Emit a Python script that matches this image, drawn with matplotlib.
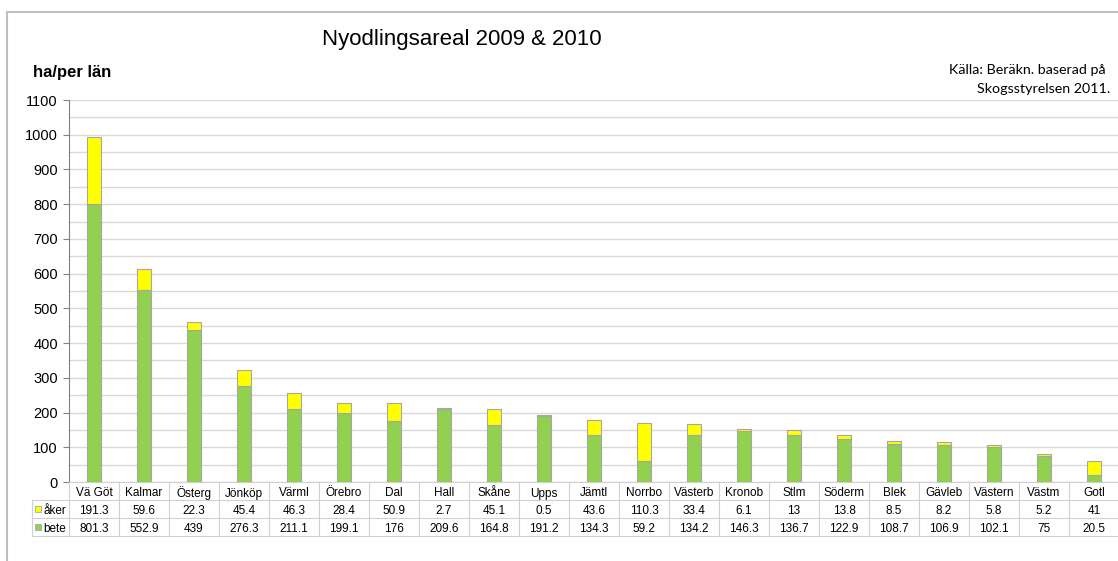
import numpy as np
import matplotlib
matplotlib.use("Agg")
import matplotlib.pyplot as plt
import matplotlib.transforms as mtransforms
from matplotlib.patches import Rectangle
from matplotlib.lines import Line2D

# data (ha per län)
regions = ["Vä Göt", "Kalmar", "Österg", "Jönköp", "Värml", "Örebro", "Dal",
           "Hall", "Skåne", "Upps", "Jämtl", "Norrbo", "Västerb", "Kronob",
           "Stlm", "Söderm", "Blek", "Gävleb", "Västern", "Västm", "Gotl"]
aker = [191.3, 59.6, 22.3, 45.4, 46.3, 28.4, 50.9, 2.7, 45.1, 0.5, 43.6,
        110.3, 33.4, 6.1, 13, 13.8, 8.5, 8.2, 5.8, 5.2, 41]
bete = [801.3, 552.9, 439, 276.3, 211.1, 199.1, 176, 209.6, 164.8, 191.2,
        134.3, 59.2, 134.2, 146.3, 136.7, 122.9, 108.7, 106.9, 102.1, 75, 20.5]
series = ["åker", "bete"]
colors = {"åker": "#FFFF00", "bete": "#92D050"}

plt.rcParams['font.family'] = ['Liberation Sans', 'DejaVu Sans']

W, H = 1118, 561
fig = plt.figure(figsize=(W / 100, H / 100), dpi=100)


def fx(px):
    return px / W


def fy(px):
    return 1 - px / H


ax = fig.add_axes([fx(69), fy(482), fx(1119) - fx(69), fy(100) - fy(482)])
x = np.arange(len(regions))
edge = "#A6A6A6"
ax.bar(x, bete, width=0.28, color=colors["bete"], edgecolor=edge, linewidth=0.8, zorder=3)
ax.bar(x, aker, bottom=bete, width=0.28, color=colors["åker"], edgecolor=edge, linewidth=0.8, zorder=3)

ax.set_xlim(-0.5, len(regions) - 0.5)
ax.set_ylim(0, 1100)
ax.set_yticks(range(0, 1101, 100))
ax.set_yticks(range(50, 1100, 100), minor=True)
ax.grid(axis='y', which='both', color='#D9D9D9', linewidth=1, zorder=0)
ax.set_xticks([])
ax.tick_params(axis='y', which='major', length=4, color='#808080', labelsize=10.5, pad=4)
ax.tick_params(axis='y', which='minor', length=0)
for s in ['top', 'right']:
    ax.spines[s].set_visible(False)
ax.spines['left'].set_color('#808080')
ax.spines['bottom'].set_color('#D0D0D0')

# data table below the axis
blend = mtransforms.blended_transform_factory(ax.transData, fig.transFigure)
line_c = '#D0D0D0'
rows_y = [482, 500, 518, 536]
for i in range(len(regions) + 1):
    fig.add_artist(Line2D([i - 0.5, i - 0.5], [fy(482), fy(536)], transform=blend,
                          color=line_c, lw=0.8))
fig.add_artist(Line2D([fx(32), fx(32)], [fy(500), fy(536)], color=line_c, lw=0.8))
for y in rows_y[1:]:
    fig.add_artist(Line2D([fx(32), 1], [fy(y), fy(y)], color=line_c, lw=0.8))

for i, r in enumerate(regions):
    ax.text(i, fy(496.5), r, transform=blend, ha='center', va='baseline', fontsize=8.5)
    for k, vals in enumerate([aker, bete]):
        s = f"{vals[i]:g}"
        ax.text(i, fy(513.5 + 18 * k), s, transform=blend, ha='center', va='baseline', fontsize=8.5)

for k, name in enumerate(series):
    yc = 509 + 18 * k
    fig.add_artist(Rectangle((fx(35), fy(yc + 3)), fx(6), 6 / H, transform=fig.transFigure,
                             facecolor=colors[name], edgecolor=edge, lw=0.6))
    fig.text(fx(43), fy(yc + 4.5), name, ha='left', va='baseline', fontsize=8.5)

# titles
fig.text(fx(462), fy(40), "Nyodlingsareal 2009 & 2010", ha='center', va='center', fontsize=16)
fig.text(fx(33), fy(73), "ha/per län", ha='left', va='center', fontsize=12, fontweight='bold')
fig.text(fx(1106), fy(70), "Källa: Beräkn. baserad på", ha='right', va='center',
         fontsize=10.3, family=['Lato', 'DejaVu Sans'])
fig.text(fx(1110), fy(89), "Skogsstyrelsen 2011.", ha='right', va='center',
         fontsize=10.3, family=['Lato', 'DejaVu Sans'])

# outer chart frame
fig.add_artist(Rectangle((fx(7), fy(600)), fx(1200), fy(12) - fy(600), transform=fig.transFigure,
                         fill=False, edgecolor='#BFBFBF', lw=1.5))

fig.savefig("out.png", dpi=100)
